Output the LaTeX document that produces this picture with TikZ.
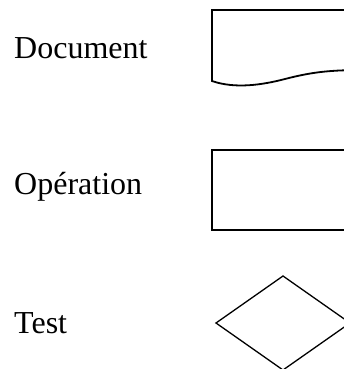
\documentclass[tikz,border=0pt]{standalone}
\usepackage{fontspec}
\setmainfont{Liberation Serif}

\tikzset{
    legend/.style={anchor=base west, inner sep=0pt, font=\fontsize{32}{38}\selectfont},
    symb/.style={line width=1.8pt},
}

\begin{document}
\begin{tikzpicture}[x=1pt, y=-1pt]
        \useasboundingbox (0,0) rectangle (343,369);
        % labels
        \node[legend] (doc) at (14,59) {Document};
        \node[legend] (op) at (14,194) {Opération};
        \node[legend] (test) at (14,333) {Test};
        % document symbol
        \draw[symb, line join=miter] (365,70) .. controls (330,70) and (312,72) .. (285,79)
            .. controls (262,85) and (235,89) .. (212,81) -- (212,10) -- (365,10);
        % operation symbol
        \draw[symb, line width=2pt] (365,150) -- (212,150) -- (212,230) -- (365,230);
        % test symbol
        \draw[line width=1.3pt] (283,276) -- (216,323) -- (283,370) -- (350,323) -- cycle;
\end{tikzpicture}
\end{document}
